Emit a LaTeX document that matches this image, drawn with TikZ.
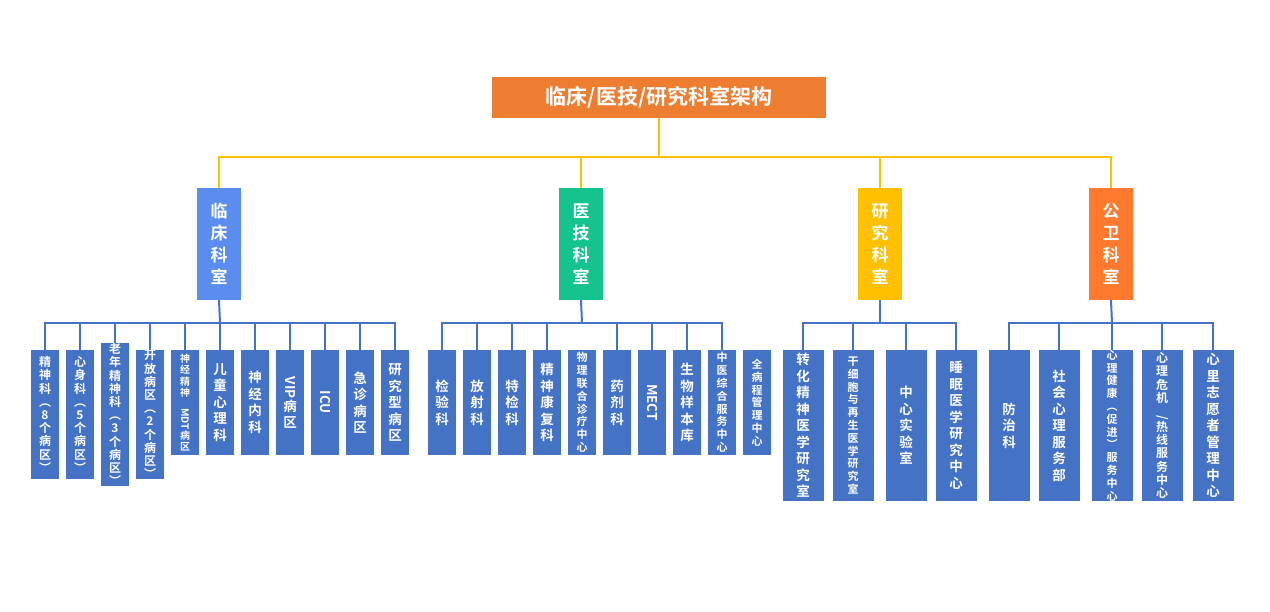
\documentclass[tikz,border=0pt]{standalone}
\usepackage{fontspec}
\newfontfamily\cjk{Noto Sans CJK SC}[BoldFont={Noto Sans CJK SC Bold}]
\definecolor{lb}{HTML}{4472C4}
\definecolor{tor}{HTML}{ED7D31}
\definecolor{gold}{HTML}{FFC000}
\definecolor{c1}{HTML}{5B8DEF}
\definecolor{c2}{HTML}{14C38E}
\definecolor{c3}{HTML}{FFC000}
\definecolor{c4}{HTML}{FF7A2F}
\newcommand{\rt}[1]{\rotatebox{-90}{#1}}
\begin{document}
\begin{tikzpicture}[x=1pt,y=-1pt,
  box/.style={inner sep=0pt,text=white,align=center,font=\cjk\bfseries},
  lf/.style={box,fill=lb,minimum width=28pt,minimum height=105pt},
  lt/.style={box,fill=lb,minimum width=28pt,minimum height=129pt},
  lw/.style={box,fill=lb,minimum width=41pt,minimum height=151pt},
  mid/.style={box,minimum width=44pt,minimum height=112pt,font=\cjk\bfseries\fontsize{17}{22}\selectfont},
  f14/.style={font=\cjk\bfseries\fontsize{13.5}{16.5}\selectfont},
  f12/.style={font=\cjk\bfseries\fontsize{12}{13.2}\selectfont},
  f10/.style={font=\cjk\bfseries\fontsize{10}{11.5}\selectfont},
  f11/.style={font=\cjk\bfseries\fontsize{11}{12.8}\selectfont},
  yl/.style={gold,line width=2.5pt},
  bl/.style={lb,line width=2pt}]
\useasboundingbox (0,0) rectangle (1270,612);
\node[box,fill=tor,minimum width=334pt,minimum height=41pt,font=\cjk\bfseries\fontsize{21}{24}\selectfont] (top) at (659,97.5) {临床/医技/研究科室架构};
\node[mid,fill=c1] (m1) at (219,244) {临\\床\\科\\室};
\node[mid,fill=c2] (m2) at (581,244) {医\\技\\科\\室};
\node[mid,fill=c3] (m3) at (880,244) {研\\究\\科\\室};
\node[mid,fill=c4] (m4) at (1111,244) {公\\卫\\科\\室};
\draw[yl] (top.south) -- (659,157);
\draw[yl] (m1.north) |- (659,157) -| (m4.north);
\draw[yl] (m2.north) -- (m2.north|-0,157);
\draw[yl] (m3.north) -- (m3.north|-0,157);
% group 1
\node[lt,f12] (a1) at (45,414.5) {精\\神\\科\\︵\\8\\个\\病\\区\\︶};
\node[lt,f12] (a2) at (80,414.5) {心\\身\\科\\︵\\5\\个\\病\\区\\︶};
\node[lt,f12] (a3) at (115,414.5) {老\\年\\精\\神\\科\\︵\\3\\个\\病\\区\\︶};
\node[lt,f12] (a4) at (150,414.5) {开\\放\\病\\区\\︵\\2\\个\\病\\区\\︶};
\node[lf,f10] (a5) at (185,402.5) {神\\经\\精\\神\\\rt{MDT}\\病\\区};
\node[lf,f14] (a6) at (220,402.5) {儿\\童\\心\\理\\科};
\node[lf,f14] (a7) at (255,402.5) {神\\经\\内\\科};
\node[lf,f14] (a8) at (290,402.5) {\rt{VIP}\\病\\区};
\node[lf,f14] (a9) at (325,402.5) {\rt{ICU}};
\node[lf,f14] (a10) at (360,402.5) {急\\诊\\病\\区};
\node[lf,f14] (a11) at (395,402.5) {研\\究\\型\\病\\区};
\draw[bl] (m1.south) -- (220,323);
\draw[bl] (a1.north) |- (220,323) -| (a11.north);
\foreach \n in {a2,a3,a4,a5,a6,a7,a8,a9,a10} \draw[bl] (\n.north) -- (\n.north|-0,323);
% group 2
\node[lf,f14] (b1) at (442,402.5) {检\\验\\科};
\node[lf,f14] (b2) at (477,402.5) {放\\射\\科};
\node[lf,f14] (b3) at (512,402.5) {特\\检\\科};
\node[lf,f14] (b4) at (547,402.5) {精\\神\\康\\复\\科};
\node[lf,f11] (b5) at (582,402.5) {物\\理\\联\\合\\诊\\疗\\中\\心};
\node[lf,f14] (b6) at (617,402.5) {药\\剂\\科};
\node[lf,f14] (b7) at (652,402.5) {\rt{MECT}};
\node[lf,f14] (b8) at (687,402.5) {生\\物\\样\\本\\库};
\node[lf,f11] (b9) at (722,402.5) {中\\医\\综\\合\\服\\务\\中\\心};
\node[lf,f11] (b10) at (757,402.5) {全\\病\\程\\管\\理\\中\\心};
\draw[bl] (m2.south) -- (582,323);
\draw[bl] (b1.north) |- (582,323) -| (b9.north);
\foreach \n in {b2,b3,b4,b6,b7,b8} \draw[bl] (\n.north) -- (\n.north|-0,323);
% group 3
\node[lw,f14] (c1n) at (803,425.5) {转\\化\\精\\神\\医\\学\\研\\究\\室};
\node[lw,f11] (c2n) at (853,425.5) {干\\细\\胞\\与\\再\\生\\医\\学\\研\\究\\室};
\node[lw,f14] (c3n) at (906,425.5) {中\\心\\实\\验\\室};
\node[lw,f14] (c4n) at (956,425.5) {睡\\眠\\医\\学\\研\\究\\中\\心};
\draw[bl] (m3.south) -- (880,323);
\draw[bl] (c1n.north) |- (880,323) -| (c4n.north);
\foreach \n in {c2n,c3n} \draw[bl] (\n.north) -- (\n.north|-0,323);
% group 4
\node[lw,f14] (d1) at (1009,425.5) {防\\治\\科};
\node[lw,f14] (d2) at (1059,425.5) {社\\会\\心\\理\\服\\务\\部};
\node[lw,f11] (d3) at (1112,425.5) {心\\理\\健\\康\\︵\\促\\进\\︶\\服\\务\\中\\心};
\node[lw,f12] (d4) at (1162,425.5) {心\\理\\危\\机\\\rt{/}\\热\\线\\服\\务\\中\\心};
\node[lw,f14] (d5) at (1213,425.5) {心\\里\\志\\愿\\者\\管\\理\\中\\心};
\draw[bl] (m4.south) -- (1112,323);
\draw[bl] (d1.north) |- (1112,323) -| (d5.north);
\foreach \n in {d2,d3,d4} \draw[bl] (\n.north) -- (\n.north|-0,323);
\end{tikzpicture}
\end{document}
